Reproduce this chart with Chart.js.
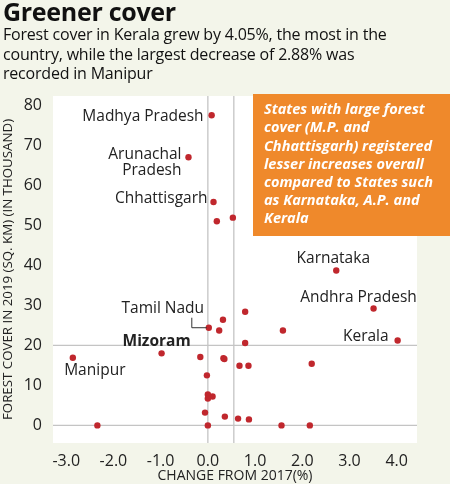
<!DOCTYPE html>
<html>
<head>
<meta charset="utf-8">
<script src="https://cdn.jsdelivr.net/npm/chart.js@4"></script>
<style>
  body { margin: 0; background: #f3f5ea; font-family: "Open Sans", sans-serif; }
  #wrap { position: relative; width: 450px; height: 484px; overflow: hidden; }
  #titolo { position: absolute; left: 3px; top: -6px; font-size: 25px; font-weight: bold; color: #111; letter-spacing: -0.3px; }
  #sotto { position: absolute; left: 3px; top: 25px; width: 447px; font-size: 16px; line-height: 19.5px; color: #111; letter-spacing: -0.2px; }
  canvas { position: absolute; left: 0; top: 0; }
</style>
</head>
<body>
<div id="wrap">
  <canvas id="grafico" width="450" height="484"></canvas>
  <div id="titolo">Greener cover</div>
  <div id="sotto">Forest cover in Kerala grew by 4.05%, the most in the<br>country, while the largest decrease of 2.88% was<br>recorded in Manipur</div>
</div>
<script>
// variazione % 2017-2019 e copertura forestale 2019 (migliaia di km²)
const variazione = [0.08, -0.41, 0.12, 0.19, 0.53, 2.72, 3.51, 4.02, 0.79, 0.32, 0.02, 0.24, 1.59, 0.79,
  -2.86, -0.98, -0.16, 0.33, 0.35, 0.67, 0.86, 2.2, -0.02, 0.0, 0.1, 0.0, -0.06, 0.36, 0.64, 0.87,
  -2.34, 0.0, 1.56, 2.16];
const copertura = [77.5, 67.0, 55.8, 51.0, 51.9, 38.7, 29.2, 21.2, 28.4, 26.4, 24.4, 23.7, 23.7, 20.6,
  16.9, 18.0, 17.1, 16.8, 16.6, 14.9, 14.9, 15.4, 12.5, 7.7, 7.2, 6.7, 3.2, 2.2, 1.7, 1.5,
  0, 0, 0, 0];
const xTicks = [-3, -2, -1, 0, 1, 2, 3, 4];
const yTicks = [0, 10, 20, 30, 40, 50, 60, 70, 80];
const nota = ["States with large forest", "cover (M.P. and", "Chhattisgarh) registered",
  "lesser increases overall", "compared to States such", "as Karnataka, A.P. and", "Kerala"];

// etichette: indice del punto, testo, scostamento in pixel
const etichette = [
  { i: 0, t: ["Madhya Pradesh"], dx: -8, dy: 1, al: "right" },
  { i: 1, t: ["Arunachal", "Pradesh"], dx: -7, dy: -3, al: "right" },
  { i: 2, t: ["Chhattisgarh"], dx: -6, dy: -3, al: "right" },
  { i: 5, t: ["Karnataka"], dx: -3, dy: -12, al: "center" },
  { i: 6, t: ["Andhra Pradesh"], dx: -15, dy: -11, al: "center" },
  { i: 7, t: ["Kerala"], dx: -9, dy: -4, al: "right" },
  { i: 10, t: ["Tamil Nadu"], dx: -46, dy: -19, al: "center" },
  { i: 15, t: ["Mizoram"], dx: -5, dy: -12, al: "center", bold: true },
  { i: 14, t: ["Manipur"], dx: 22, dy: 13, al: "center" }
];

const sfondoArea = {
  id: "sfondoArea",
  beforeDraw(chart) {
    const { ctx, chartArea: a, scales: { x, y } } = chart;
    ctx.save();
    ctx.fillStyle = "#ffffff";
    ctx.fillRect(a.left, a.top, a.right - a.left, a.bottom - a.top);
    ctx.strokeStyle = "#c4c4c4";
    ctx.lineWidth = 1.3;
    [0, 0.55].forEach(v => {
      const px = x.getPixelForValue(v);
      ctx.beginPath(); ctx.moveTo(px, a.top); ctx.lineTo(px, a.bottom); ctx.stroke();
    });
    [0, 20].forEach(v => {
      const py = y.getPixelForValue(v);
      ctx.beginPath(); ctx.moveTo(a.left, py); ctx.lineTo(a.right, py); ctx.stroke();
    });
    ctx.restore();
  },
  afterDatasetsDraw(chart) {
    const { ctx, scales: { x, y } } = chart;
    ctx.save();
    ctx.fillStyle = "#222";
    ctx.textBaseline = "middle";
    etichette.forEach(e => {
      const px = x.getPixelForValue(variazione[e.i]) + e.dx;
      const py = y.getPixelForValue(copertura[e.i]) + e.dy;
      ctx.font = (e.bold ? "bold " : "") + "15.5px 'Open Sans'";
      ctx.textAlign = e.al;
      e.t.forEach((r, k) => ctx.fillText(r, px, py + k * 16));
    });
    // linea guida Tamil Nadu
    const tx = x.getPixelForValue(variazione[10]);
    const ty = y.getPixelForValue(copertura[10]);
    ctx.strokeStyle = "#333";
    ctx.lineWidth = 1;
    ctx.beginPath();
    ctx.moveTo(tx - 17, ty - 10); ctx.lineTo(tx - 17, ty); ctx.lineTo(tx - 2, ty);
    ctx.stroke();
    // riquadro arancione
    ctx.fillStyle = "#ef892b";
    ctx.fillRect(253, 94, 197, 142);
    ctx.fillStyle = "#ffffff";
    ctx.textAlign = "left";
    ctx.font = "italic bold 14.5px 'Open Sans'";
    nota.forEach((r, k) => ctx.fillText(r, 264, 110 + k * 18.2));
    ctx.restore();
  }
};

new Chart(document.getElementById("grafico"), {
  type: "scatter",
  data: {
    datasets: [{
      data: variazione.map((v, i) => ({ x: v, y: copertura[i] })),
      backgroundColor: "#c0272d",
      borderWidth: 0,
      pointRadius: 3.2
    }]
  },
  options: {
    responsive: false,
    animation: false,
    layout: { padding: { top: 96, right: 33 } },
    plugins: { legend: { display: false }, tooltip: { enabled: false } },
    scales: {
      x: {
        min: -3.28, max: 4.43,
        afterBuildTicks: s => { s.ticks = xTicks.map(v => ({ value: v })); },
        afterFit: s => { s.height = 41; },
        grid: { display: false },
        border: { display: false },
        ticks: { color: "#222", font: { size: 16, family: "Open Sans" }, padding: 1,
          callback: v => v.toFixed(1), maxRotation: 0 },
        title: { display: true, text: "CHANGE FROM 2017(%)", color: "#222",
          font: { size: 14, family: "Open Sans" }, padding: 0 }
      },
      y: {
        min: -4.4, max: 82.3,
        afterBuildTicks: s => { s.ticks = yTicks.map(v => ({ value: v })); },
        afterFit: s => { s.width = 53; },
        grid: { display: false },
        border: { display: false },
        ticks: { color: "#222", font: { size: 16, family: "Open Sans" }, padding: 3 },
        title: { display: true, text: "FOREST COVER IN 2019 (SQ. KM) (IN THOUSAND)", color: "#222",
          font: { size: 13.3, family: "Open Sans" }, padding: 0 }
      }
    }
  },
  plugins: [sfondoArea]
});
</script>
</body>
</html>
